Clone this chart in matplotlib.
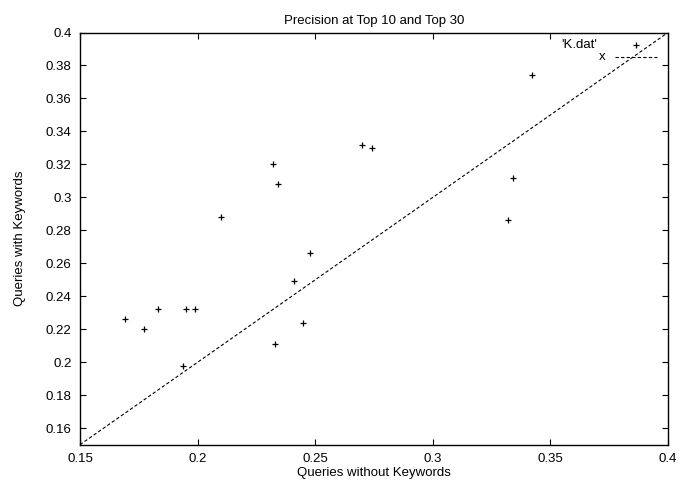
import matplotlib
matplotlib.use("Agg")
import matplotlib.pyplot as plt
import numpy as np

plt.rcParams['font.family'] = ['Liberation Sans', 'DejaVu Sans']

# precision values
without_kw = [0.169, 0.177, 0.183, 0.195, 0.199, 0.194, 0.210, 0.232, 0.234,
              0.233, 0.241, 0.245, 0.248, 0.270, 0.274, 0.332, 0.334, 0.342]
with_kw = [0.226, 0.220, 0.232, 0.232, 0.232, 0.198, 0.288, 0.320, 0.308,
           0.211, 0.249, 0.224, 0.266, 0.332, 0.330, 0.286, 0.312, 0.374]
diag = [0.15, 0.4]

xticks = [0.15, 0.2, 0.25, 0.3, 0.35, 0.4]
xticklabels = ['0.15', '0.2', '0.25', '0.3', '0.35', '0.4']
yticks = [0.16, 0.18, 0.2, 0.22, 0.24, 0.26, 0.28, 0.3, 0.32, 0.34, 0.36, 0.38, 0.4]
yticklabels = ['0.16', '0.18', '0.2', '0.22', '0.24', '0.26', '0.28', '0.3',
               '0.32', '0.34', '0.36', '0.38', '0.4']

fs = 9.5

fig = plt.figure(figsize=(6.79, 4.83), dpi=100)
ax = fig.add_axes([80 / 679, 38.3 / 483, 588 / 679, 412.2 / 483])

ax.plot(without_kw, with_kw, linestyle='none', marker='+', color='black',
        markersize=4.6, markeredgewidth=0.9)
ax.plot(diag, diag, color='black', linestyle=(0, (3, 2)), linewidth=0.8)

ax.set_xlim(0.15, 0.4)
ax.set_ylim(0.15, 0.4)
ax.set_xticks(xticks)
ax.set_xticklabels(xticklabels)
ax.set_yticks(yticks)
ax.set_yticklabels(yticklabels)
ax.tick_params(direction='in', length=4, width=0.8, top=True, right=True,
               labelsize=fs, pad=6)
for s in ax.spines.values():
    s.set_linewidth(1.0)

ax.set_title('Precision at Top 10 and Top 30', fontsize=fs, pad=6)
ax.set_xlabel('Queries without Keywords', fontsize=fs, labelpad=1.5)
ax.set_ylabel('Queries with Keywords', fontsize=fs, labelpad=14)

# gnuplot-style key in the top right corner
tr = ax.transAxes
ax.text(0.880, 0.9697, "'K.dat'", transform=tr, ha='right', va='center', fontsize=fs)
ax.plot([0.9456], [0.9697], transform=tr, marker='+', color='black',
        markersize=4.6, markeredgewidth=0.9, linestyle='none')
ax.text(0.893, 0.940, 'x', transform=tr, ha='right', va='center', fontsize=fs)
ax.plot([0.910, 0.981], [0.940, 0.940], transform=tr, color='black',
        linestyle=(0, (3, 2)), linewidth=0.8)

fig.savefig('out.png', dpi=100)
